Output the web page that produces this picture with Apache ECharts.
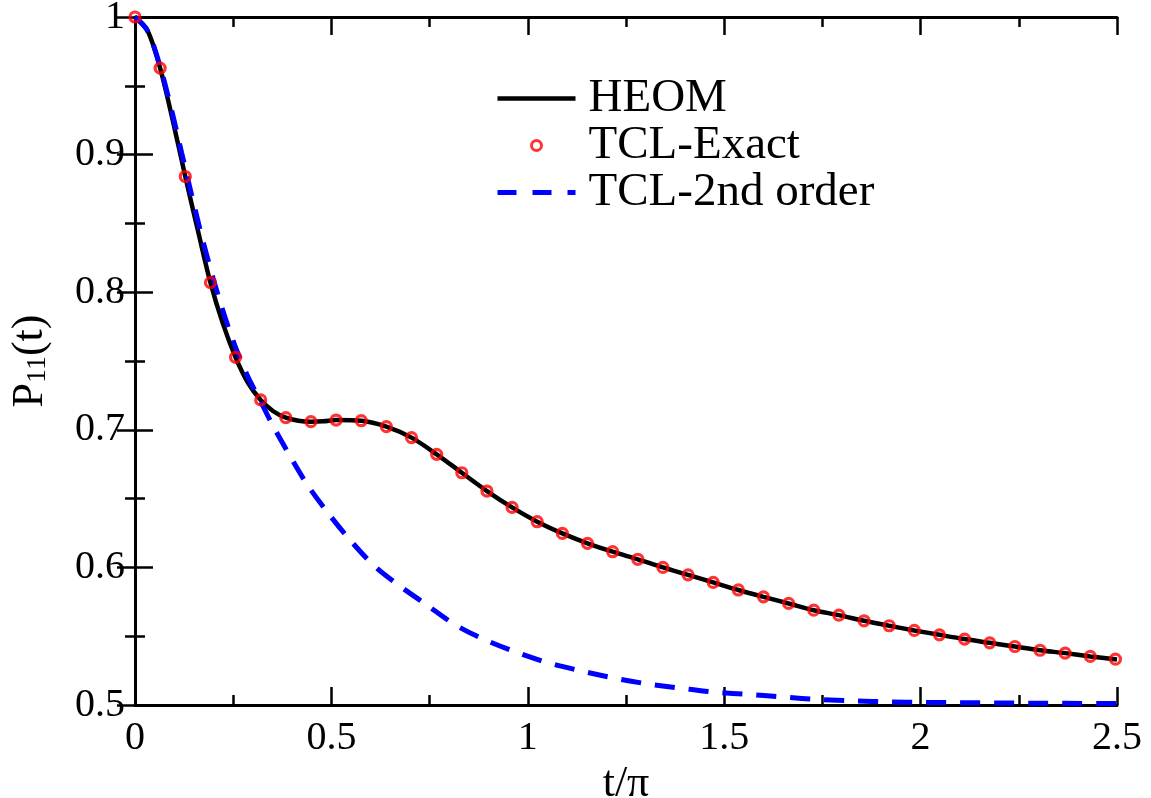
<!DOCTYPE html>
<html>
<head>
<meta charset="utf-8">
<script src="https://cdn.jsdelivr.net/npm/echarts@6/dist/echarts.min.js"></script>
<style>
html,body{margin:0;padding:0;background:#fff;}
#chart{width:1151px;height:798px;}
</style>
</head>
<body>
<div id="chart"></div>
<script>
// ---- data (t/pi , P11) ----
var heomT = [0, 0.032, 0.064, 0.096, 0.128, 0.16, 0.192, 0.224, 0.256, 0.288, 0.32, 0.352, 0.384, 0.416, 0.448, 0.48, 0.512, 0.576, 0.64, 0.704, 0.768, 0.832, 0.896, 0.96, 1.024, 1.088, 1.152, 1.216, 1.28, 1.344, 1.408, 1.472, 1.536, 1.6, 1.664, 1.728, 1.792, 1.856, 1.92, 1.984, 2.048, 2.112, 2.176, 2.24, 2.304, 2.368, 2.432, 2.5];
var heomP = [1.000, 0.990, 0.9629, 0.925, 0.8841, 0.845, 0.8070, 0.777, 0.7527, 0.734, 0.7217, 0.7135, 0.7088, 0.7066, 0.7059, 0.7062, 0.7071, 0.7066, 0.7023, 0.6943, 0.6822, 0.6688, 0.6555, 0.6436, 0.6332, 0.6247, 0.6175, 0.6114, 0.6059, 0.6000, 0.5946, 0.5891, 0.5836, 0.5786, 0.5738, 0.5689, 0.5653, 0.5612, 0.5576, 0.5542, 0.5510, 0.5479, 0.5452, 0.5425, 0.5398, 0.5377, 0.5353, 0.5331];

var exactT = [0, 0.064, 0.128, 0.192, 0.256, 0.32, 0.384, 0.448, 0.512, 0.576, 0.64, 0.704, 0.768, 0.832, 0.896, 0.96, 1.024, 1.088, 1.152, 1.216, 1.28, 1.344, 1.408, 1.472, 1.536, 1.6, 1.664, 1.728, 1.792, 1.856, 1.92, 1.984, 2.048, 2.112, 2.176, 2.24, 2.304, 2.368, 2.432, 2.496];
var exactP = [1.000, 0.9629, 0.8841, 0.8070, 0.7527, 0.7217, 0.7088, 0.7059, 0.7071, 0.7066, 0.7023, 0.6943, 0.6822, 0.6688, 0.6555, 0.6436, 0.6332, 0.6247, 0.6175, 0.6114, 0.6059, 0.6000, 0.5946, 0.5891, 0.5836, 0.5786, 0.5738, 0.5689, 0.5653, 0.5612, 0.5576, 0.5542, 0.5510, 0.5479, 0.5452, 0.5425, 0.5398, 0.5377, 0.5353, 0.5333];

var tcl2T = [0, 0.032, 0.064, 0.096, 0.119, 0.166, 0.199, 0.23, 0.26, 0.29, 0.318, 0.348, 0.393, 0.439, 0.492, 0.546, 0.609, 0.671, 0.74, 0.817, 0.893, 0.974, 1.055, 1.137, 1.219, 1.306, 1.391, 1.476, 1.566, 1.653, 1.742, 1.831, 1.92, 2.009, 2.098, 2.187, 2.279, 2.366, 2.457, 2.5];
var tcl2P = [1.000, 0.990, 0.964, 0.929, 0.901, 0.845, 0.810, 0.781, 0.757, 0.737, 0.7217, 0.7047, 0.6817, 0.6599, 0.6393, 0.6204, 0.6011, 0.5871, 0.5733, 0.5580, 0.5471, 0.5380, 0.5304, 0.5247, 0.5196, 0.5153, 0.5122, 0.5093, 0.5076, 0.5057, 0.5040, 0.5030, 0.5023, 0.5019, 0.5017, 0.5015, 0.5013, 0.5012, 0.5011, 0.5010];

var xTickValues = [0, 0.5, 1, 1.5, 2, 2.5];
var xTickLabels = ['0', '0.5', '1', '1.5', '2', '2.5'];
var yTickValues = [0.5, 0.6, 0.7, 0.8, 0.9, 1];
var yTickLabels = ['0.5', '0.6', '0.7', '0.8', '0.9', '1'];
var seriesNames = ['HEOM', 'TCL-Exact', 'TCL-2nd order'];

function zip(a, b) { return a.map(function (v, i) { return [v, b[i]]; }); }
function lookup(vals, labels) {
  return function (v) {
    for (var i = 0; i < vals.length; i++) if (Math.abs(vals[i] - v) < 1e-6) return labels[i];
    return '';
  };
}

var FONT = "'Liberation Serif', 'Times New Roman', serif";
var frameLine = { show: true, lineStyle: { color: '#000', width: 3 } };
var tick = { show: true, inside: true, length: 18, lineStyle: { color: '#000', width: 2.5 } };
var minor = { show: true, splitNumber: 2, length: 10, lineStyle: { color: '#000', width: 2.5 } };

var chart = echarts.init(document.getElementById('chart'), null, { renderer: 'canvas' });
chart.setOption({
  backgroundColor: '#fff',
  animation: false,
  grid: { left: 135, right: 34, top: 17, bottom: 93, containLabel: false, outerBoundsMode: 'none' },
  legend: {
    orient: 'vertical',
    left: 490,
    top: 70,
    itemWidth: 78,
    itemHeight: 10,
    itemGap: 0,
    data: [
      { name: seriesNames[0], itemStyle: { opacity: 0 }, lineStyle: { color: '#000', width: 4.5 } },
      { name: seriesNames[1], itemStyle: { color: 'rgba(0,0,0,0)', borderColor: '#ff0000', borderWidth: 3 } },
      { name: seriesNames[2], itemStyle: { opacity: 0 }, lineStyle: { color: '#0000ff', width: 5, type: [19, 16] } }
    ],
    textStyle: { fontFamily: FONT, fontSize: 47, color: '#000', lineHeight: 43.5, padding: [0, 0, 0, 8] }
  },
  xAxis: [{
    type: 'value', min: 0, max: 2.5, interval: 0.5, position: 'bottom',
    axisLine: frameLine, axisTick: tick, minorTick: minor, splitLine: { show: false },
    axisLabel: { fontFamily: FONT, fontSize: 40, color: '#000', margin: 13, formatter: lookup(xTickValues, xTickLabels) },
    name: 't/\u03c0', nameLocation: 'middle', nameGap: 54,
    nameTextStyle: { fontFamily: FONT, fontSize: 44, color: '#000' }
  }, {
    type: 'value', min: 0, max: 2.5, interval: 0.5, position: 'top',
    axisLine: frameLine, axisTick: tick, minorTick: minor, splitLine: { show: false },
    axisLabel: { show: false }
  }],
  yAxis: [{
    type: 'value', min: 0.5, max: 1, interval: 0.1, position: 'left',
    axisLine: frameLine, axisTick: tick, minorTick: minor, splitLine: { show: false },
    axisLabel: { fontFamily: FONT, fontSize: 40, color: '#000', margin: 10, formatter: lookup(yTickValues, yTickLabels) },
    name: '{p|P}{s|11}{p|(t)}', nameLocation: 'middle', nameGap: 82, nameRotate: 90,
    nameTextStyle: {
      fontFamily: FONT, color: '#000',
      rich: {
        p: { fontFamily: FONT, fontSize: 44, lineHeight: 46, color: '#000' },
        s: { fontFamily: FONT, fontSize: 28, color: '#000', verticalAlign: 'top', padding: [17, 0, 0, 0] }
      }
    }
  }, {
    type: 'value', min: 0.5, max: 1, interval: 0.1, position: 'right',
    axisLine: frameLine, axisTick: tick, minorTick: minor, splitLine: { show: false },
    axisLabel: { show: false }
  }],
  series: [{
    name: seriesNames[0], type: 'line', data: zip(heomT, heomP),
    showSymbol: false, symbol: 'none', smooth: 0.3,
    lineStyle: { color: '#000', width: 4.5 }, itemStyle: { color: '#000' }, z: 2
  }, {
    name: seriesNames[2], type: 'line', data: zip(tcl2T, tcl2P),
    showSymbol: false, symbol: 'none', smooth: 0.3,
    lineStyle: { color: '#0000ff', width: 5, type: [20, 14], cap: 'butt' }, itemStyle: { color: '#0000ff' }, z: 3
  }, {
    name: seriesNames[1], type: 'scatter', data: zip(exactT, exactP),
    symbol: 'circle', symbolSize: 10,
    itemStyle: { color: 'rgba(0,0,0,0)', borderColor: '#ff0000', borderWidth: 3.2 }, z: 4
  }]
});
</script>
</body>
</html>
